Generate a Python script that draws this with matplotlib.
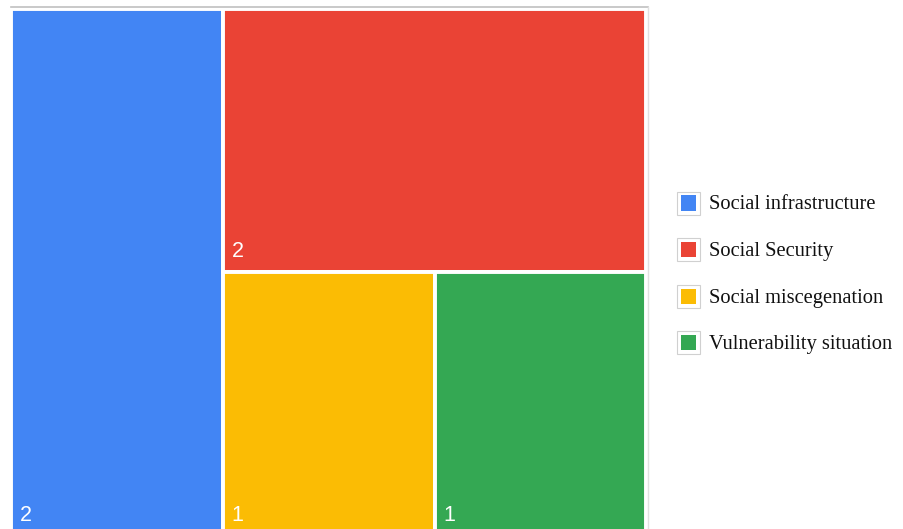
import matplotlib
matplotlib.use("Agg")
import matplotlib.pyplot as plt
from matplotlib.patches import Rectangle
from matplotlib.lines import Line2D

# treemap data
categories = ["Social infrastructure", "Social Security",
              "Social miscegenation", "Vulnerability situation"]
values = [2, 2, 1, 1]
colors = ["#4285f4", "#ea4335", "#fbbc04", "#34a853"]

FW, FH, DPI = 904, 529, 100


def slice_layout(vals, x, y, w, h):
    # cut each item off the remaining box along its longer side
    rects = []
    rest = float(sum(vals))
    for v in vals:
        frac = v / rest
        if w >= h:
            rects.append((x, y, w * frac, h))
            x += w * frac
            w -= w * frac
        else:
            rects.append((x, y, w, h * frac))
            y += h * frac
            h -= h * frac
        rest -= v
    return rects


def px(x0, y0, x1, y1):
    # pixel box (from top-left) -> figure fractions
    return [x0 / FW, 1 - y1 / FH, (x1 - x0) / FW, (y1 - y0) / FH]


fig = plt.figure(figsize=(FW / DPI, FH / DPI), dpi=DPI)

# plot area runs past the bottom edge of the image
left, top, right, bottom = 11, 8.5, 646.5, 535.5
ax = fig.add_axes(px(left, top, right, bottom))
W, H = right - left, bottom - top
ax.set_xlim(0, W)
ax.set_ylim(H, 0)
ax.axis("off")

for (x, y, w, h), v, c in zip(slice_layout(values, 0, 0, W, H), values, colors):
    ax.add_patch(Rectangle((x, y), w, h, facecolor=c, edgecolor="white",
                           linewidth=2.8, clip_on=False))
    ax.annotate(str(v), xy=(x, y + h), xytext=(6.2, 10.5),
                textcoords="offset points", color="white", fontsize=15.5,
                family="Liberation Sans", ha="left", va="baseline")

# thin frame along the top and right
fig.add_artist(Line2D([11 / FW, 648 / FW], [1 - 7 / FH, 1 - 7 / FH],
                      color="#c0c0c0", lw=1.2))
fig.add_artist(Line2D([648 / FW, 648 / FW], [1 - 7 / FH, 0],
                      color="#e0e0e0", lw=1.0))

# legend
for i, (lab, c) in enumerate(zip(categories, colors)):
    cy = 203 + i * 46.5
    fig.add_artist(Rectangle((677 / FW, 1 - (cy + 11.5) / FH), 23 / FW, 23 / FH,
                             facecolor="white", edgecolor="#d0d0d0", lw=0.8,
                             transform=fig.transFigure))
    fig.add_artist(Rectangle((681 / FW, 1 - (cy + 7.5) / FH), 15 / FW, 15 / FH,
                             facecolor=c, edgecolor="none",
                             transform=fig.transFigure))
    fig.text(709 / FW, 1 - (cy + 2) / FH, lab, family="Liberation Serif",
             fontsize=14.8, color="#111111", ha="left", va="center")

fig.savefig("out.png", dpi=DPI)
